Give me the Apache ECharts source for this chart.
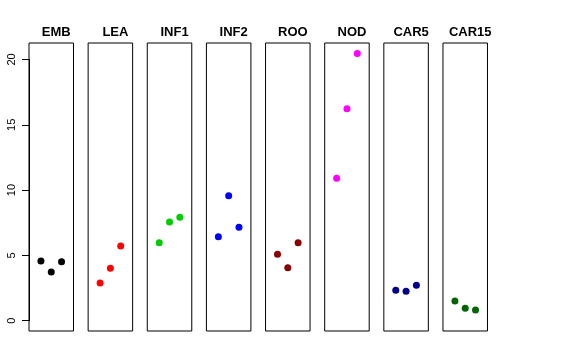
<!DOCTYPE html>
<html><head><meta charset="utf-8">
<script src="https://cdn.jsdelivr.net/npm/echarts@6/dist/echarts.min.js"></script>
<style>html,body{margin:0;padding:0;background:#fff}#c{width:576px;height:360px}</style>
</head><body><div id="c"></div>
<script>
const panels = ["EMB","LEA","INF1","INF2","ROO","NOD","CAR5","CAR15"];
const colors = ["#000000","#FF0000","#00CD00","#0000FF","#8B0000","#FF00FF","#00008B","#006400"];
const positions = [1,2,3];
const EMB = [4.57,3.73,4.52];
const LEA = [2.89,4.01,5.72];
const INF1 = [5.97,7.56,7.92];
const INF2 = [6.43,9.57,7.15];
const ROO = [5.08,4.06,5.97];
const NOD = [10.9,16.23,20.45];
const CAR5 = [2.33,2.25,2.71];
const CAR15 = [1.51,0.95,0.82];
const values = [EMB,LEA,INF1,INF2,ROO,NOD,CAR5,CAR15];
const yTicks = [0,5,10,15,20];

(function(){
const FONT = "Liberation Sans, Arial, sans-serif";
const left0 = 29, step = 59.14, pw = 44.5, gTop = 43, ph = 288;
const grid = [], xAxis = [], yAxis = [], series = [], title = [];
panels.forEach((p,i)=>{
  const l = left0 + i*step;
  grid.push({left:l, top:gTop, width:pw, height:ph, show:true, borderColor:'#000', borderWidth:1, backgroundColor:'transparent'});
  xAxis.push({gridIndex:i, type:'value', min:-0.16, max:4.16, show:false});
  yAxis.push({gridIndex:i, type:'value', min:-0.79, max:21.26, show:false});
  series.push({type:'scatter', xAxisIndex:i, yAxisIndex:i, symbolSize:7,
    itemStyle:{color:colors[i], opacity:1},
    data: positions.map((x,k)=>[x, values[i][k]])});
  title.push({text:p, left:l+pw/2, top:21, textAlign:'center',
    textStyle:{fontFamily:FONT, fontSize:13, fontWeight:'bold', color:'#000'}});
});
grid.push({left:left0, top:59.5, width:10, height:261.2, show:false});
xAxis.push({gridIndex:8, type:'value', show:false});
yAxis.push({gridIndex:8, type:'value', min:yTicks[0], max:yTicks[yTicks.length-1], interval:5,
  axisLine:{show:true, lineStyle:{color:'#000', width:1}},
  axisTick:{show:true, length:7, lineStyle:{color:'#000'}},
  splitLine:{show:false},
  axisLabel:{rotate:90, margin:12, fontFamily:FONT, fontSize:11, color:'#000'}});

const chart = echarts.init(document.getElementById('c'), null, {renderer:'canvas'});
chart.setOption({animation:false, backgroundColor:'#fff', title, grid, xAxis, yAxis, series});
})();
</script></body></html>
